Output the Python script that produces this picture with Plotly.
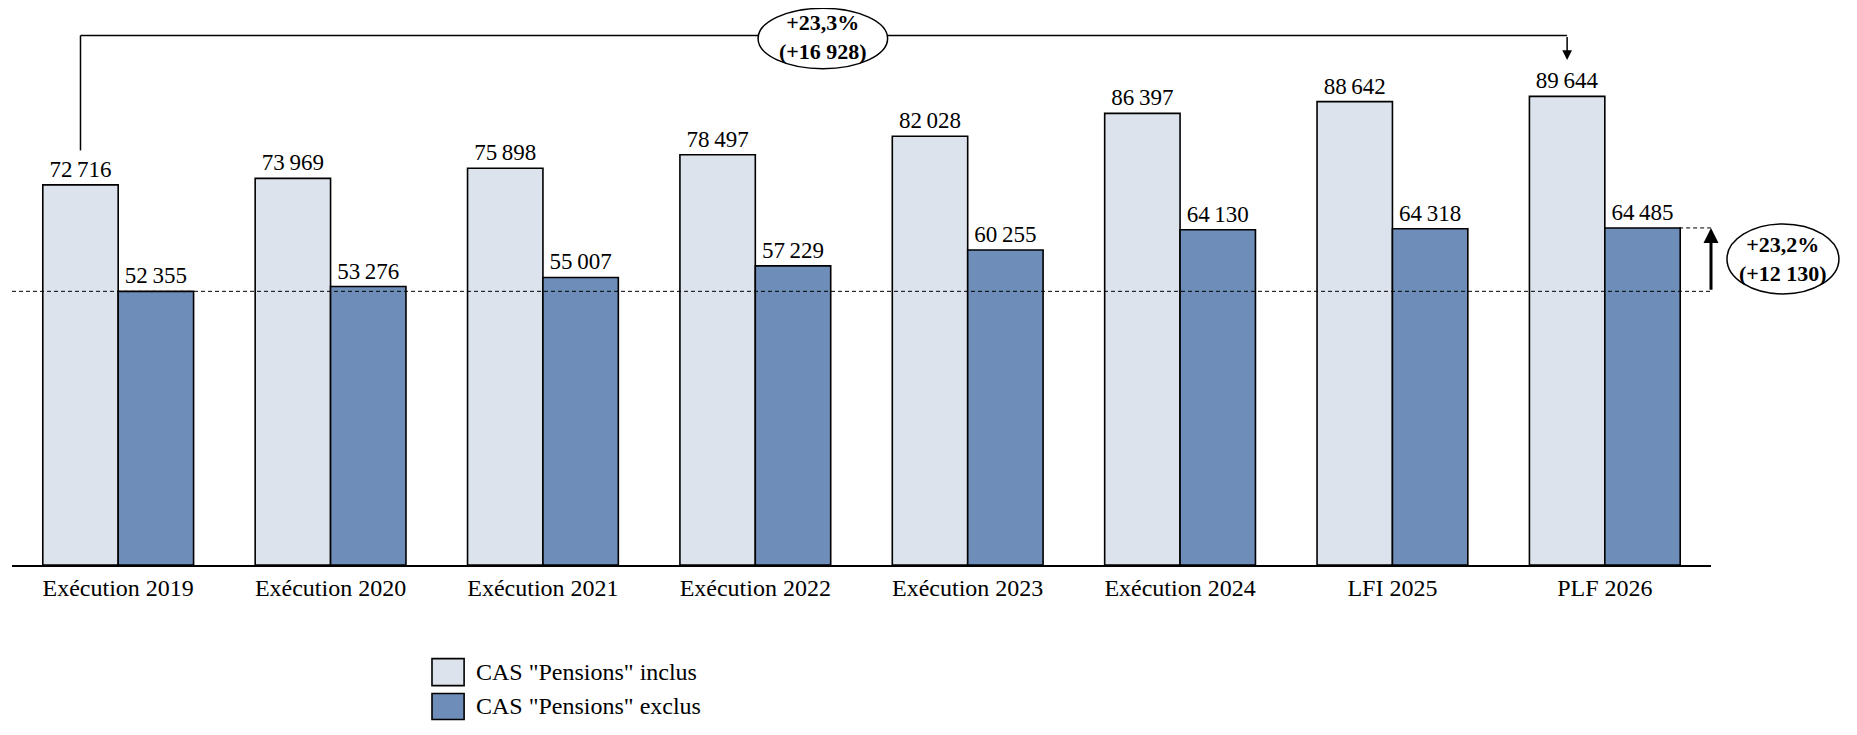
import plotly.graph_objects as go

categories = ["Exécution 2019", "Exécution 2020", "Exécution 2021", "Exécution 2022",
              "Exécution 2023", "Exécution 2024", "LFI 2025", "PLF 2026"]
cas_inclus = [72716, 73969, 75898, 78497, 82028, 86397, 88642, 89644]
cas_exclus = [52355, 53276, 55007, 57229, 60255, 64130, 64318, 64485]
name_inclus = 'CAS "Pensions" inclus'
name_exclus = 'CAS "Pensions" exclus'
top_note = "<b>+23,3%<br>(+16 928)</b>"
right_note = "<b>+23,2%<br>(+12 130)</b>"

FONT = "Liberation Serif"
C_LIGHT = "#DCE3ED"
C_DARK = "#6E8DB8"

def fmt(v):
    return f"{v:,}".replace(",", "\u2009")

xs = list(range(len(categories)))

fig = go.Figure()
fig.add_trace(go.Bar(x=xs, y=cas_inclus, name=name_inclus, marker=dict(color=C_LIGHT, line=dict(color="black", width=1.6)),
                     text=[fmt(v) for v in cas_inclus], textposition="outside", cliponaxis=False,
                     textfont=dict(family=FONT, size=23, color="black"), showlegend=False))
fig.add_trace(go.Bar(x=xs, y=cas_exclus, name=name_exclus, marker=dict(color=C_DARK, line=dict(color="black", width=1.6)),
                     text=[fmt(v) for v in cas_exclus], textposition="outside", cliponaxis=False,
                     textfont=dict(family=FONT, size=23, color="black"), showlegend=False))

YMAX = 106560
off = 0.1775
shapes = []
shapes.append(dict(type="line", xref="x", yref="y", x0=-0.5, x1=7.5, y0=cas_exclus[0], y1=cas_exclus[0],
                   line=dict(color="black", width=1, dash="4px,3px")))
shapes.append(dict(type="line", xref="x", yref="y", x0=7.35, x1=7.5, y0=cas_exclus[-1], y1=cas_exclus[-1],
                   line=dict(color="black", width=1, dash="4px,3px")))
y_br = 101300
shapes.append(dict(type="line", xref="x", yref="y", x0=-off, x1=-off, y0=79320, y1=y_br, line=dict(color="black", width=1.5)))
shapes.append(dict(type="line", xref="x", yref="y", x0=-off, x1=7 - off, y0=y_br, y1=y_br, line=dict(color="black", width=1.5)))
shapes.append(dict(type="circle", xref="x", yref="y", x0=3.318 - 0.305, x1=3.318 + 0.305, y0=94950, y1=106500,
                   line=dict(color="black", width=1.5), fillcolor="white"))
shapes.append(dict(type="circle", xref="paper", yref="y", x0=1.0094, x1=1.0753, y0=51850, y1=65240,
                   line=dict(color="black", width=1.5), fillcolor="white"))
# legend
shapes.append(dict(type="rect", xref="paper", yref="paper", x0=0.2472, x1=0.2661, y0=-0.2165, y1=-0.1681,
                   line=dict(color="black", width=1.6), fillcolor=C_LIGHT))
shapes.append(dict(type="rect", xref="paper", yref="paper", x0=0.2472, x1=0.2661, y0=-0.2774, y1=-0.2307,
                   line=dict(color="black", width=1.6), fillcolor=C_DARK))

annotations = [
    dict(x=3.318, y=(94950 + 106500) / 2 + 300, xref="x", yref="y", text=top_note, showarrow=False,
         xanchor="center", yanchor="middle", font=dict(family=FONT, size=22, color="black")),
    dict(x=1.0424, y=58545, xref="paper", yref="y", text=right_note, showarrow=False,
         xanchor="center", yanchor="middle", font=dict(family=FONT, size=22, color="black")),
    dict(x=7 - off, y=96600, ax=7 - off, ay=y_br, xref="x", yref="y", axref="x", ayref="y", text="",
         showarrow=True, arrowhead=2, arrowsize=1.3, arrowwidth=1.5, arrowcolor="black"),
    dict(x=7.5, y=cas_exclus[-1], ax=7.5, ay=cas_exclus[0], xref="x", yref="y", axref="x", ayref="y", text="",
         showarrow=True, arrowhead=2, arrowsize=1, arrowwidth=3, arrowcolor="black"),
    dict(x=0.2719, y=-0.1923, xref="paper", yref="paper", text=name_inclus, showarrow=False,
         xanchor="left", yanchor="middle", font=dict(family=FONT, size=24, color="black")),
    dict(x=0.2719, y=-0.2540, xref="paper", yref="paper", text=name_exclus, showarrow=False,
         xanchor="left", yanchor="middle", font=dict(family=FONT, size=24, color="black")),
]

fig.update_layout(
    width=1849, height=727,
    margin=dict(l=4, r=146, t=0, b=170),
    plot_bgcolor="white", paper_bgcolor="white",
    barmode="group", bargap=0.29, bargroupgap=0,
    font=dict(family=FONT, size=22, color="black"),
    shapes=shapes, annotations=annotations,
    xaxis=dict(tickmode="array", tickvals=xs, ticktext=categories, range=[-0.5, 7.5],
               showline=True, linecolor="black", linewidth=2, ticks="", showgrid=False, zeroline=False,
               tickfont=dict(family=FONT, size=24, color="black")),
    yaxis=dict(range=[0, YMAX], visible=False, showgrid=False, zeroline=False),
)

fig.write_html("out.html")
